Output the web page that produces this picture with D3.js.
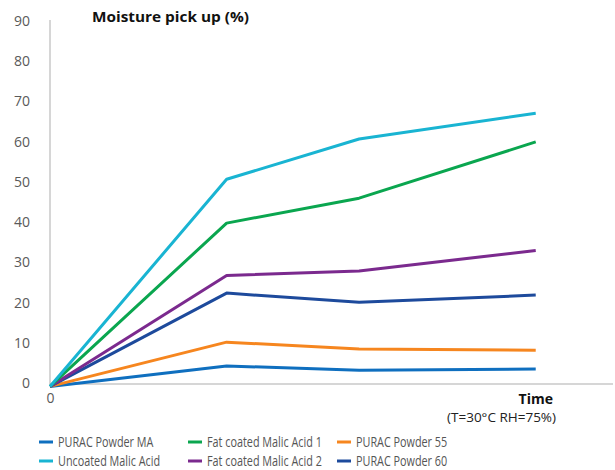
<!DOCTYPE html>
<html>
<head>
<meta charset="utf-8">
<script src="https://cdn.jsdelivr.net/npm/d3@7"></script>
<style>
  html, body { margin: 0; padding: 0; background: #fff; }
  svg { display: block; font-family: "Open Sans", "Noto Sans", sans-serif; }
</style>
</head>
<body>
<svg id="chart" width="615" height="470"></svg>
<script>
// Sampling times (hours) and moisture pick up (%) per product
const times = [0, 4, 7, 11];
const seriesNames = [
  "PURAC Powder MA",
  "Uncoated Malic Acid",
  "Fat coated Malic Acid 1",
  "Fat coated Malic Acid 2",
  "PURAC Powder 55",
  "PURAC Powder 60"
];
const puracMA      = [-0.6, 4.5, 3.4, 3.7];
const uncoated     = [-0.6, 50.9, 60.9, 67.3];
const fatCoated1   = [-0.6, 40.0, 46.2, 60.2];
const fatCoated2   = [-0.6, 27.0, 28.1, 33.2];
const purac55      = [-0.6, 10.4, 8.7, 8.4];
const purac60      = [-0.6, 22.6, 20.3, 22.1];
const yTicks = [0, 10, 20, 30, 40, 50, 60, 70, 80, 90];
const colors = ["#0f6fbf", "#19b4d2", "#0aa64f", "#7b2a8e", "#f6861f", "#1d4a9c"];

const seriesValues = [puracMA, uncoated, fatCoated1, fatCoated2, purac55, purac60];
// drawing order: lowest first so upper lines sit on top
const drawOrder = [0, 4, 5, 3, 2, 1];

const svg = d3.select("#chart");
const x = d3.scaleLinear().domain([0, 12.75]).range([50, 613]);
const y = d3.scaleLinear().domain([0, 90]).range([384, 22]);

// axes
const axisColor = "#c9c9c9";
svg.append("line")
  .attr("x1", x(0)).attr("x2", x(0))
  .attr("y1", 20).attr("y2", y(0))
  .attr("stroke", axisColor).attr("stroke-width", 1.5);
svg.append("line")
  .attr("x1", x(0)).attr("x2", x.range()[1])
  .attr("y1", y(0)).attr("y2", y(0))
  .attr("stroke", axisColor).attr("stroke-width", 1.5);

const yAxis = svg.append("g")
  .attr("transform", `translate(${x(0)},0)`)
  .call(d3.axisLeft(y).tickValues(yTicks).tickSize(0).tickPadding(20));
yAxis.select(".domain").remove();
yAxis.selectAll("text")
  .attr("fill", "#5a5a5a")
  .attr("font-size", 14)
  .attr("font-family", "Open Sans, sans-serif")
  .attr("dy", "0.25em");

const xAxis = svg.append("g")
  .attr("transform", `translate(0,${y(0)})`)
  .call(d3.axisBottom(x).tickValues([0]).tickSize(0).tickPadding(9));
xAxis.select(".domain").remove();
xAxis.selectAll("text")
  .attr("fill", "#5a5a5a")
  .attr("font-size", 14)
  .attr("font-family", "Open Sans, sans-serif");

// lines
const line = d3.line()
  .x((d, i) => x(times[i]))
  .y(d => y(d));

drawOrder.forEach(k => {
  svg.append("path")
    .datum(seriesValues[k])
    .attr("d", line)
    .attr("fill", "none")
    .attr("stroke", colors[k])
    .attr("stroke-width", 3)
    .attr("stroke-linejoin", "round");
});

// axis titles
svg.append("text")
  .attr("x", 92).attr("y", 22)
  .attr("font-size", 15).attr("font-weight", "bold").attr("fill", "#111")
  .attr("textLength", 157).attr("lengthAdjust", "spacingAndGlyphs")
  .text("Moisture pick up (%)");
svg.append("text")
  .attr("x", 553).attr("y", 404)
  .attr("text-anchor", "end")
  .attr("font-size", 14).attr("font-weight", "bold").attr("fill", "#111")
  .text("Time");
svg.append("text")
  .attr("x", 556).attr("y", 422)
  .attr("text-anchor", "end")
  .attr("font-size", 13.5).attr("fill", "#222")
  .text("(T=30°C RH=75%)");

// legend: three columns, two rows, set in a condensed face
const legendCols = [39, 188, 337];
const legendRows = [442, 461];
const legendCell = [[0, 0], [0, 1], [1, 0], [1, 1], [2, 0], [2, 1]];
const legendTexts = [];
seriesNames.forEach((name, k) => {
  const [c, r] = legendCell[k];
  const g = svg.append("g")
    .attr("transform", `translate(${legendCols[c]},${legendRows[r]})`);
  g.append("line")
    .attr("x1", 0).attr("x2", 14).attr("y1", 0).attr("y2", 0)
    .attr("stroke", colors[k]).attr("stroke-width", 3);
  const t = g.append("text")
    .attr("x", 0).attr("y", 0).attr("dy", "0.35em")
    .attr("font-size", 14).attr("fill", "#555")
    .text(name);
  legendTexts.push(t);
});
// narrow the legend glyphs so the longest entry fits its column
const longest = legendTexts[2].node().getComputedTextLength();
const squeeze = 115 / longest;
legendTexts.forEach(t => {
  t.attr("transform", `translate(19,0) scale(${squeeze},1)`);
});
</script>
</body>
</html>
